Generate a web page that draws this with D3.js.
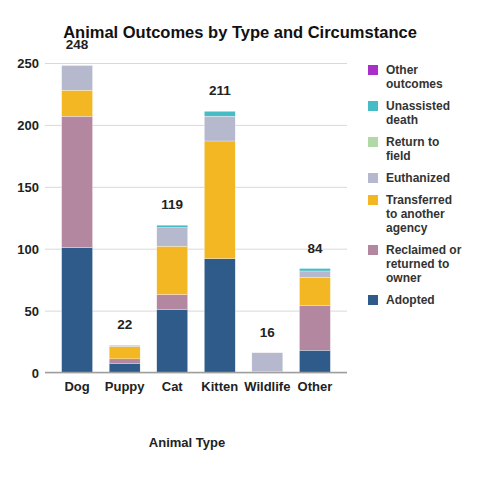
<!DOCTYPE html>
<html lang="en">
<head>
    <title>Animal Outcomes by Type and Circumstance</title>
    <script src="https://d3js.org/d3.v7.min.js" charset="utf-8"></script>
    <style>
    body {
        margin: 0;
        font-family: "Liberation Sans", Arial, sans-serif;
        background: #fff;
    }
    .tick text {
        font-family: "Liberation Sans", Arial, sans-serif;
        font-weight: bold;
        font-size: 13px;
        fill: #222;
    }
    .legend text {
        font-size: 12px;
        font-weight: bold;
        fill: #333;
    }
    </style>
</head>
<body>
    <script>

    var animalTypes = ["Dog", "Puppy", "Cat", "Kitten", "Wildlife", "Other"];

    // stacking order, bottom to top
    var outcomes = ["Adopted", "Reclaimed or returned to owner", "Transferred to another agency",
                    "Euthanized", "Return to field", "Unassisted death", "Other outcomes"];

    var adopted      = [101, 7, 51, 92, 0, 18];
    var reclaimed    = [106, 4, 12, 0, 0, 36];
    var transferred  = [21, 10, 39, 95, 1, 23];
    var euthanized   = [20, 1, 15, 20, 15, 5];
    var returnField  = [0, 0, 0, 0, 0, 0];
    var unassisted   = [0, 0, 2, 4, 0, 2];
    var otherOutcome = [0, 0, 0, 0, 0, 0];

    var yTicks = [0, 50, 100, 150, 200, 250];

    var colors = ["#2e5b8a", "#b3879f", "#f2b722", "#b6b9cd", "#b1d8a6", "#46bdc6", "#a830c8"];

    // legend lines (wrapped like the original)
    var legendLines = [
        ["Other", "outcomes"],
        ["Unassisted", "death"],
        ["Return to", "field"],
        ["Euthanized"],
        ["Transferred", "to another", "agency"],
        ["Reclaimed or", "returned to", "owner"],
        ["Adopted"]
    ];

    var seriesValues = [adopted, reclaimed, transferred, euthanized, returnField, unassisted, otherOutcome];

    var rows = animalTypes.map(function(t, i) {
        var r = { type: t };
        outcomes.forEach(function(o, k) { r[o] = seriesValues[k][i]; });
        return r;
    });

    var width = 480, height = 480;

    var svg = d3.select("body")
        .append("svg")
        .attr("width", width)
        .attr("height", height);

    var x = d3.scaleBand()
        .domain(animalTypes)
        .range([45, 347])
        .padding(0.35);

    var y = d3.scaleLinear()
        .domain([0, 250])
        .range([372.5, 63]);

    // gridlines + y labels
    var yAxis = svg.append("g")
        .attr("transform", "translate(45,0)")
        .call(d3.axisLeft(y).tickValues(yTicks).tickSize(-302).tickPadding(6));
    yAxis.select(".domain").remove();
    yAxis.selectAll(".tick line").attr("stroke", "#d9d9d9");
    yAxis.selectAll(".tick text").attr("dy", "0.35em");

    var stack = d3.stack().keys(outcomes);
    var layers = stack(rows);

    svg.append("g")
        .selectAll("g")
        .data(layers)
        .enter()
        .append("g")
        .attr("fill", function(d, i) { return colors[i]; })
        .selectAll("rect")
        .data(function(d) { return d; })
        .enter()
        .append("rect")
        .attr("x", function(d) { return x(d.data.type); })
        .attr("width", x.bandwidth())
        .attr("y", function(d) { return y(d[1]); })
        .attr("height", function(d) { return y(d[0]) - y(d[1]); })
        .attr("stroke", "#fff")
        .attr("stroke-width", 0.3);

    // x axis
    var xAxis = svg.append("g")
        .attr("transform", "translate(0,372.5)")
        .call(d3.axisBottom(x).tickSize(0).tickPadding(9));
    xAxis.select(".domain").attr("stroke", "#9e9e9e").attr("stroke-width", 1.5)
        .attr("d", "M45,0H347");

    // totals above bars
    svg.append("g")
        .selectAll("text")
        .data(rows)
        .enter()
        .append("text")
        .attr("x", function(d) { return x(d.type) + x.bandwidth() / 2; })
        .attr("y", function(d) {
            var total = d3.sum(outcomes, function(o) { return d[o]; });
            return y(total) - 16;
        })
        .attr("text-anchor", "middle")
        .attr("font-size", 13.5)
        .attr("font-weight", "bold")
        .attr("fill", "#222")
        .text(function(d) { return d3.sum(outcomes, function(o) { return d[o]; }); });

    // title
    svg.append("text")
        .attr("x", 240)
        .attr("y", 38)
        .attr("text-anchor", "middle")
        .attr("font-size", 16.5)
        .attr("font-weight", "bold")
        .attr("fill", "#111")
        .text("Animal Outcomes by Type and Circumstance");

    // x axis title
    svg.append("text")
        .attr("x", 187)
        .attr("y", 447)
        .attr("text-anchor", "middle")
        .attr("font-size", 13)
        .attr("font-weight", "bold")
        .attr("fill", "#222")
        .text("Animal Type");

    // legend, top to bottom
    var legend = svg.append("g").attr("class", "legend");
    var ly = 70;
    legendLines.forEach(function(lines, i) {
        var ci = colors.length - 1 - i;
        legend.append("rect")
            .attr("x", 368)
            .attr("y", ly - 5)
            .attr("width", 10)
            .attr("height", 10)
            .attr("fill", colors[ci]);
        lines.forEach(function(line, j) {
            legend.append("text")
                .attr("x", 386)
                .attr("y", ly + j * 14)
                .attr("dy", "0.35em")
                .text(line);
        });
        ly += lines.length * 14 + 8;
    });

    </script>
</body>
</html>
